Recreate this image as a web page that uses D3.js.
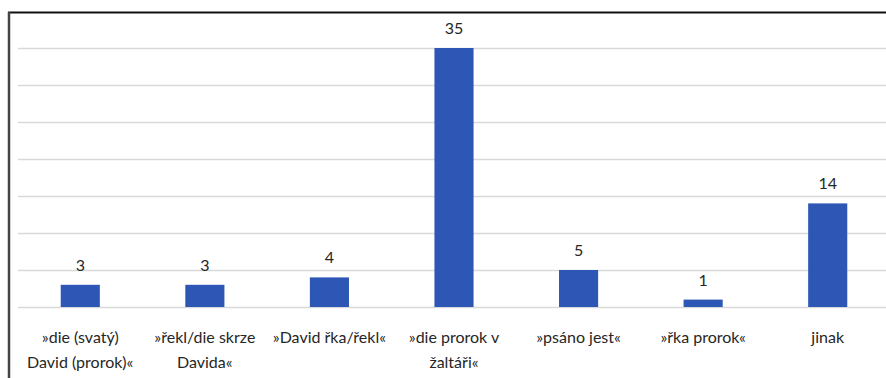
<!DOCTYPE html>
<html>
<head>
<meta charset="utf-8">
<script src="https://cdn.jsdelivr.net/npm/d3@7"></script>
<style>
  html, body { margin: 0; padding: 0; background: #fff; }
  svg { display: block; }
  text { font-family: Lato, "Open Sans", sans-serif; fill: #262626; }
</style>
</head>
<body>
<svg id="chart" width="886" height="378"></svg>
<script>
// Formulations used to introduce a quotation, with counts
const categories = [
  ["»die (svatý)", "David (prorok)«"],
  ["»řekl/die skrze", "Davida«"],
  ["»David řka/řekl«"],
  ["»die prorok v", "žaltáři«"],
  ["»psáno jest«"],
  ["»řka prorok«"],
  ["jinak"]
];
const values = [3, 3, 4, 35, 5, 1, 14];
const gridTicks = [0, 5, 10, 15, 20, 25, 30, 35];

const svg = d3.select("#chart");
const W = 886, H = 378;

const x = d3.scaleBand()
  .domain(d3.range(categories.length))
  .range([18, 890])
  .paddingInner(0.686)
  .paddingOuter(0.343);

const y = d3.scaleLinear().domain([0, 40]).range([307, 11]);

// horizontal gridlines
svg.append("g")
  .selectAll("line")
  .data(gridTicks)
  .join("line")
  .attr("x1", 18).attr("x2", W)
  .attr("y1", d => Math.round(y(d)) + 0.5)
  .attr("y2", d => Math.round(y(d)) + 0.5)
  .attr("stroke", "#d9d9d9")
  .attr("stroke-width", 1.5);

// bars
svg.append("g")
  .selectAll("rect")
  .data(values)
  .join("rect")
  .attr("x", (d, i) => x(i))
  .attr("width", x.bandwidth())
  .attr("y", d => y(d))
  .attr("height", d => y(0) - y(d))
  .attr("fill", "#2e57b5");

// value labels
svg.append("g")
  .selectAll("text")
  .data(values)
  .join("text")
  .attr("x", (d, i) => x(i) + x.bandwidth() / 2)
  .attr("y", d => y(d) - 14)
  .attr("text-anchor", "middle")
  .attr("font-size", 16)
  .text(d => d);

// category labels (wrapped)
const cat = svg.append("g")
  .selectAll("text")
  .data(categories)
  .join("text")
  .attr("text-anchor", "middle")
  .attr("font-size", 16)
  .attr("x", (d, i) => x(i) + x.bandwidth() / 2)
  .attr("y", 343);
cat.selectAll("tspan")
  .data(d => d)
  .join("tspan")
  .attr("x", function () { return d3.select(this.parentNode).attr("x"); })
  .attr("dy", (d, j) => j === 0 ? 0 : 25)
  .text(d => d);

// frame: top and left edges
svg.append("line")
  .attr("x1", 8).attr("x2", W)
  .attr("y1", 12.5).attr("y2", 12.5)
  .attr("stroke", "#111").attr("stroke-width", 2);
svg.append("line")
  .attr("x1", 9).attr("x2", 9)
  .attr("y1", 12).attr("y2", H)
  .attr("stroke", "#444").attr("stroke-width", 2.5);
</script>
</body>
</html>
